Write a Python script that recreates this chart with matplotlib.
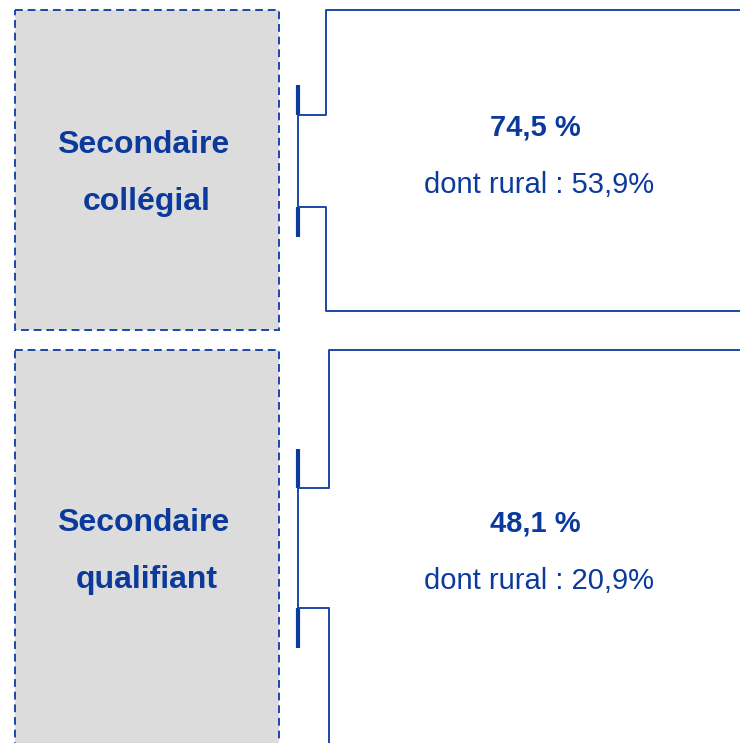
import matplotlib
matplotlib.use("Agg")
import matplotlib.pyplot as plt
from matplotlib.patches import Rectangle

plt.rcParams['font.family'] = ['Liberation Sans', 'DejaVu Sans']

categories = ["Secondaire\ncollégial", "Secondaire\nqualifiant"]
totals = ["74,5 %", "48,1 %"]
rural = ["dont rural : 53,9%", "dont rural : 20,9%"]

TXT = '#0B3A9C'
LINE = '#1C47AA'

fig = plt.figure(figsize=(7.40, 7.43), dpi=100)
ax = fig.add_axes([0, 0, 1, 1])
ax.set_xlim(0, 740)
ax.set_ylim(743, 0)
ax.axis('off')

blocks = [
    dict(top=10, bottom=330, rtop=10, rbot=311, btop=85, bbot=237, htop=115, hbot=207, xv=326,
         ycat=145, ty=128),
    dict(top=350, bottom=760, rtop=350, rbot=760, btop=449, bbot=648, htop=488, hbot=608, xv=329,
         ycat=523, ty=524),
]

for i, b in enumerate(blocks):
    ax.add_patch(Rectangle((15, b['top']), 264, b['bottom'] - b['top'],
                           facecolor='#DCDCDC', edgecolor=LINE, lw=1.4,
                           ls=(0, (4, 2.5))))
    lines = categories[i].split("\n")
    ax.text(143, b['ycat'], lines[0], ha='center', va='center', color=TXT,
            fontsize=23, fontweight='bold')
    ax.text(147, b['ycat'] + 57, lines[1], ha='center', va='center', color=TXT,
            fontsize=23, fontweight='bold')
    # bracket
    ax.plot([298, 298], [b['btop'], b['htop']], color=TXT, lw=3, solid_capstyle='butt')
    ax.plot([298, 298], [b['hbot'], b['bbot']], color=TXT, lw=3, solid_capstyle='butt')
    ax.plot([298, 298], [b['htop'], b['hbot']], color=LINE, lw=1.4)
    ax.plot([298, b['xv'], b['xv'], 745], [b['htop'], b['htop'], b['rtop'], b['rtop']],
            color=LINE, lw=1.4)
    ax.plot([298, b['xv'], b['xv'], 745], [b['hbot'], b['hbot'], b['rbot'], b['rbot']],
            color=LINE, lw=1.4)
    ax.text(535, b['ty'], totals[i], ha='center', va='center', color=TXT,
            fontsize=21, fontweight='bold')
    ax.text(539, b['ty'] + 57, rural[i], ha='center', va='center', color=TXT,
            fontsize=21)

fig.savefig("out.png", dpi=100)
